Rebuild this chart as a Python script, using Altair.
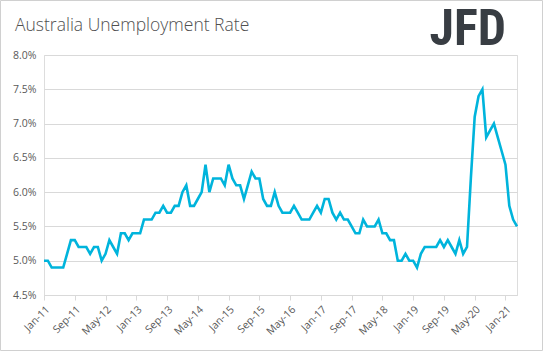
import altair as alt
import pandas as pd

start_month = "2011-01-01"
rates = [
    5.0, 5.0, 4.9, 4.9, 4.9, 4.9, 5.1, 5.3, 5.3, 5.2, 5.2, 5.2,
    5.1, 5.2, 5.2, 5.0, 5.1, 5.3, 5.2, 5.1, 5.4, 5.4, 5.3, 5.4,
    5.4, 5.4, 5.6, 5.6, 5.6, 5.7, 5.7, 5.8, 5.7, 5.7, 5.8, 5.8,
    6.0, 6.1, 5.8, 5.8, 5.9, 6.0, 6.4, 6.0, 6.2, 6.2, 6.2, 6.1,
    6.4, 6.2, 6.1, 6.1, 5.9, 6.1, 6.3, 6.2, 6.2, 5.9, 5.8, 5.8,
    6.0, 5.8, 5.7, 5.7, 5.7, 5.8, 5.7, 5.6, 5.6, 5.6, 5.7, 5.8,
    5.7, 5.9, 5.9, 5.7, 5.6, 5.7, 5.6, 5.6, 5.5, 5.4, 5.4, 5.6,
    5.5, 5.5, 5.5, 5.6, 5.4, 5.4, 5.3, 5.3, 5.0, 5.0, 5.1, 5.0,
    5.0, 4.9, 5.1, 5.2, 5.2, 5.2, 5.2, 5.3, 5.2, 5.3, 5.2, 5.1,
    5.3, 5.1, 5.2, 6.2, 7.1, 7.4, 7.5, 6.8, 6.9, 7.0, 6.8, 6.6,
    6.4, 5.8, 5.6, 5.5,
]
tick_labels = ["Jan-11", "Sep-11", "May-12", "Jan-13", "Sep-13", "May-14", "Jan-15",
               "Sep-15", "May-16", "Jan-17", "Sep-17", "May-18", "Jan-19", "Sep-19",
               "May-20", "Jan-21"]
y_ticks = [4.5, 5.0, 5.5, 6.0, 6.5, 7.0, 7.5, 8.0]
title_text = "Australia Unemployment Rate"
logo_text = "JFD"

months = pd.date_range(start_month, periods=len(rates), freq="MS").strftime("%b-%y").tolist()
df = pd.DataFrame({"month": months, "rate": rates})

GRAY = "#d9d9d9"
TXT = "#595959"
FONT = "Open Sans"

line = alt.Chart(df).mark_line(color="#00b4dc", strokeWidth=2.6).encode(
    x=alt.X("month:O", sort=months,
            scale=alt.Scale(type="point", padding=0),
            axis=alt.Axis(values=tick_labels, labelAngle=-45, title=None,
                          domainColor=GRAY, tickColor=GRAY, tickSize=5,
                          labelColor=TXT, labelFont=FONT, labelFontSize=10.5,
                          labelPadding=4, grid=False)),
    y=alt.Y("rate:Q", scale=alt.Scale(domain=[4.5, 8.0], nice=False, zero=False),
            axis=alt.Axis(values=y_ticks, title=None, domain=False, ticks=False,
                          grid=True, gridColor=GRAY, gridWidth=1,
                          labelExpr="format(datum.value, '.1f') + '%'",
                          labelColor=TXT, labelFont=FONT, labelFontSize=10.5,
                          labelPadding=8)),
)

title = alt.Chart(pd.DataFrame({"t": [title_text]})).mark_text(
    align="left", baseline="alphabetic", font=FONT, fontSize=17.5,
    fontWeight=300, color="#505050"
).encode(text="t:N", x=alt.value(-29), y=alt.value(-24))

logo = alt.Chart(pd.DataFrame({"t": [logo_text]})).mark_text(
    align="right", baseline="alphabetic", font="Liberation Sans Narrow, Roboto Condensed, Roboto",
    fontSize=50, fontWeight="bold", color="#383d43"
).encode(text="t:N", x=alt.value(462), y=alt.value(-10))

border = alt.Chart(pd.DataFrame({"a": [0]})).mark_rect(
    fill=None, stroke="#d0d0d0", strokeWidth=1
).encode(x=alt.value(-43.5), x2=alt.value(498.5), y=alt.value(-54.5), y2=alt.value(295.5))

chart = alt.layer(border, line, title, logo).properties(
    width=473, height=240,
    autosize=alt.AutoSizeParams(type="none"),
    padding={"left": 44, "top": 55, "right": 26, "bottom": 56},
).configure_view(stroke=None).configure(background="white")

chart.save("out.html", embed_options={"renderer": "svg", "actions": False})
